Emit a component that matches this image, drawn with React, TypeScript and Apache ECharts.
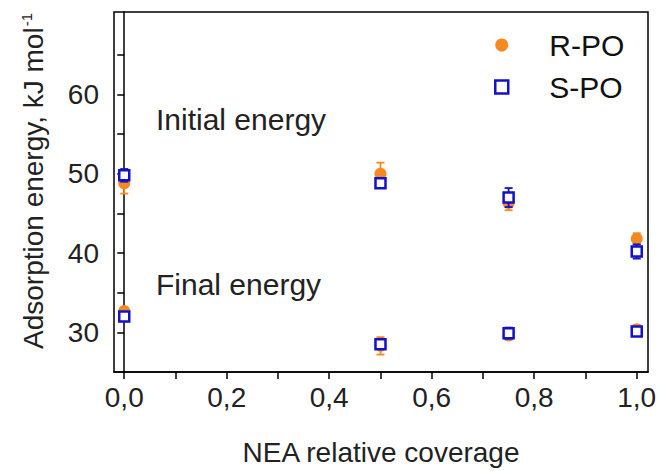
import React, { useEffect, useRef } from "react";
import * as echarts from "echarts";

const coverage = [0, 0.5, 0.75, 1.0];
const rpoInitial = [48.8, 50.0, 46.3, 41.8];
const rpoInitialErr = [1.3, 1.4, 0.9, 0.7];
const rpoFinal = [32.7, 28.3, 29.6, 30.4];
const rpoFinalErr = [0.3, 1.1, 0.5, 0.5];
const spoInitial = [49.8, 48.8, 47.0, 40.2];
const spoInitialErr = [0.8, 0.4, 1.2, 0.9];
const spoFinal = [32.0, 28.5, 29.9, 30.1];
const spoFinalErr = [0.3, 0.6, 0.7, 0.3];
const xLabelValues = [0, 0.2, 0.4, 0.6, 0.8, 1.0];
const xTickValues = [0, 0.1, 0.2, 0.3, 0.4, 0.5, 0.6, 0.7, 0.8, 0.9, 1.0];
const yLabelValues = [30, 40, 50, 60];
const yTickValues = [30, 35, 40, 45, 50, 55, 60, 65];

const ORANGE = "#f5891f";
const BLUE = "#1212c8";
const FONT = "Liberation Sans, Arial, sans-serif";

function points(ys: number[]) {
  return coverage.map((x, i) => [x, ys[i]]);
}
function errPoints(ys: number[], es: number[]) {
  return coverage.map((x, i) => [x, ys[i], es[i]]);
}

function errorSeries(name: string, data: number[][], color: string, z: number) {
  return {
    type: "custom",
    name,
    z,
    data,
    encode: { x: 0, y: 1 },
    renderItem: (params: any, api: any) => {
      const x = api.value(0);
      const y = api.value(1);
      const e = api.value(2);
      const hi = api.coord([x, y + e]);
      const lo = api.coord([x, y - e]);
      const hw = 4;
      const style = { stroke: color, lineWidth: 1.8, fill: "none" };
      return {
        type: "group",
        children: [
          { type: "line", shape: { x1: hi[0], y1: hi[1], x2: lo[0], y2: lo[1] }, style },
          { type: "line", shape: { x1: hi[0] - hw, y1: hi[1], x2: hi[0] + hw, y2: hi[1] }, style },
          { type: "line", shape: { x1: lo[0] - hw, y1: lo[1], x2: lo[0] + hw, y2: lo[1] }, style },
        ],
      };
    },
  };
}

export default function App() {
  const ref = useRef<HTMLDivElement>(null);
  useEffect(() => {
    if (!ref.current) return;
    const chart = echarts.init(ref.current, null, { renderer: "svg" });
    chart.setOption({
      animation: false,
      backgroundColor: "#fff",
      textStyle: { fontFamily: FONT },
      grid: {
        left: 114,
        right: 16,
        top: 12,
        bottom: 89,
        show: true,
        borderColor: "#000",
        borderWidth: 1.5,
      },
      legend: {
        orient: "vertical",
        left: 494,
        top: 30,
        padding: 0,
        itemWidth: 13,
        itemHeight: 13,
        itemGap: 12,
        textStyle: { fontSize: 30, color: "#111", fontFamily: FONT, padding: [0, 0, 0, 36] },
        data: [
          { name: "R-PO", icon: "circle", itemStyle: { color: ORANGE } },
          {
            name: "S-PO",
            icon: "rect",
            itemStyle: { color: "#fff", borderColor: BLUE, borderWidth: 2.5 },
          },
        ],
      },
      xAxis: {
        type: "value",
        min: -0.02,
        max: 1.022,
        name: "NEA relative coverage",
        nameLocation: "middle",
        nameGap: 66,
        nameTextStyle: { fontSize: 28, color: "#222", fontFamily: FONT },
        axisLine: { show: true, lineStyle: { color: "#000", width: 1.5 } },
        axisTick: {
          show: true,
          inside: false,
          length: 7,
          lineStyle: { color: "#000", width: 1.5 },
          customValues: xTickValues,
        },
        axisLabel: {
          fontSize: 28,
          color: "#222",
          margin: 11,
          fontFamily: FONT,
          customValues: xLabelValues,
          formatter: (v: number) => v.toFixed(1).replace(".", ","),
        },
        splitLine: { show: false },
      },
      yAxis: {
        type: "value",
        min: 25,
        max: 70.4,
        name: "{a|Adsorption energy, kJ mol}{s|-1}",
        nameLocation: "middle",
        nameGap: 66,
        nameTextStyle: {
          fontFamily: FONT,
          padding: [0, 0, 0, 22],
          rich: {
            a: { fontSize: 28, color: "#222", fontFamily: FONT },
            s: { fontSize: 15, color: "#222", fontFamily: FONT, padding: [0, 0, 14, 1] },
          },
        },
        axisLine: { show: true, lineStyle: { color: "#000", width: 1.5 } },
        axisTick: {
          show: true,
          inside: false,
          length: 7,
          lineStyle: { color: "#000", width: 1.5 },
          customValues: yTickValues,
        },
        axisLabel: {
          fontSize: 28,
          color: "#222",
          margin: 15,
          fontFamily: FONT,
          customValues: yLabelValues,
        },
        splitLine: { show: false },
      },
      graphic: [
        {
          type: "text",
          left: 156,
          top: 104,
          style: { text: "Initial energy", fontSize: 30, fill: "#222", fontFamily: FONT },
        },
        {
          type: "text",
          left: 156,
          top: 269,
          style: { text: "Final energy", fontSize: 30, fill: "#222", fontFamily: FONT },
        },
      ],
      series: [
        errorSeries("R-PO err", [...errPoints(rpoInitial, rpoInitialErr), ...errPoints(rpoFinal, rpoFinalErr)], ORANGE, 1),
        {
          type: "scatter",
          name: "R-PO",
          z: 2,
          symbol: "circle",
          symbolSize: 12,
          itemStyle: { color: ORANGE, opacity: 1 },
          data: [...points(rpoInitial), ...points(rpoFinal)],
        },
        errorSeries("S-PO err", [...errPoints(spoInitial, spoInitialErr), ...errPoints(spoFinal, spoFinalErr)], BLUE, 3),
        {
          type: "scatter",
          name: "S-PO",
          z: 4,
          symbol: "rect",
          symbolSize: 10,
          itemStyle: { color: "#fff", borderColor: BLUE, borderWidth: 2.5, opacity: 1 },
          data: [...points(spoInitial), ...points(spoFinal)],
        },
      ],
    });
    return () => chart.dispose();
  }, []);
  return (
    <div
      ref={ref}
      style={{ position: "fixed", left: 0, top: 0, width: 664, height: 471 }}
    />
  );
}
